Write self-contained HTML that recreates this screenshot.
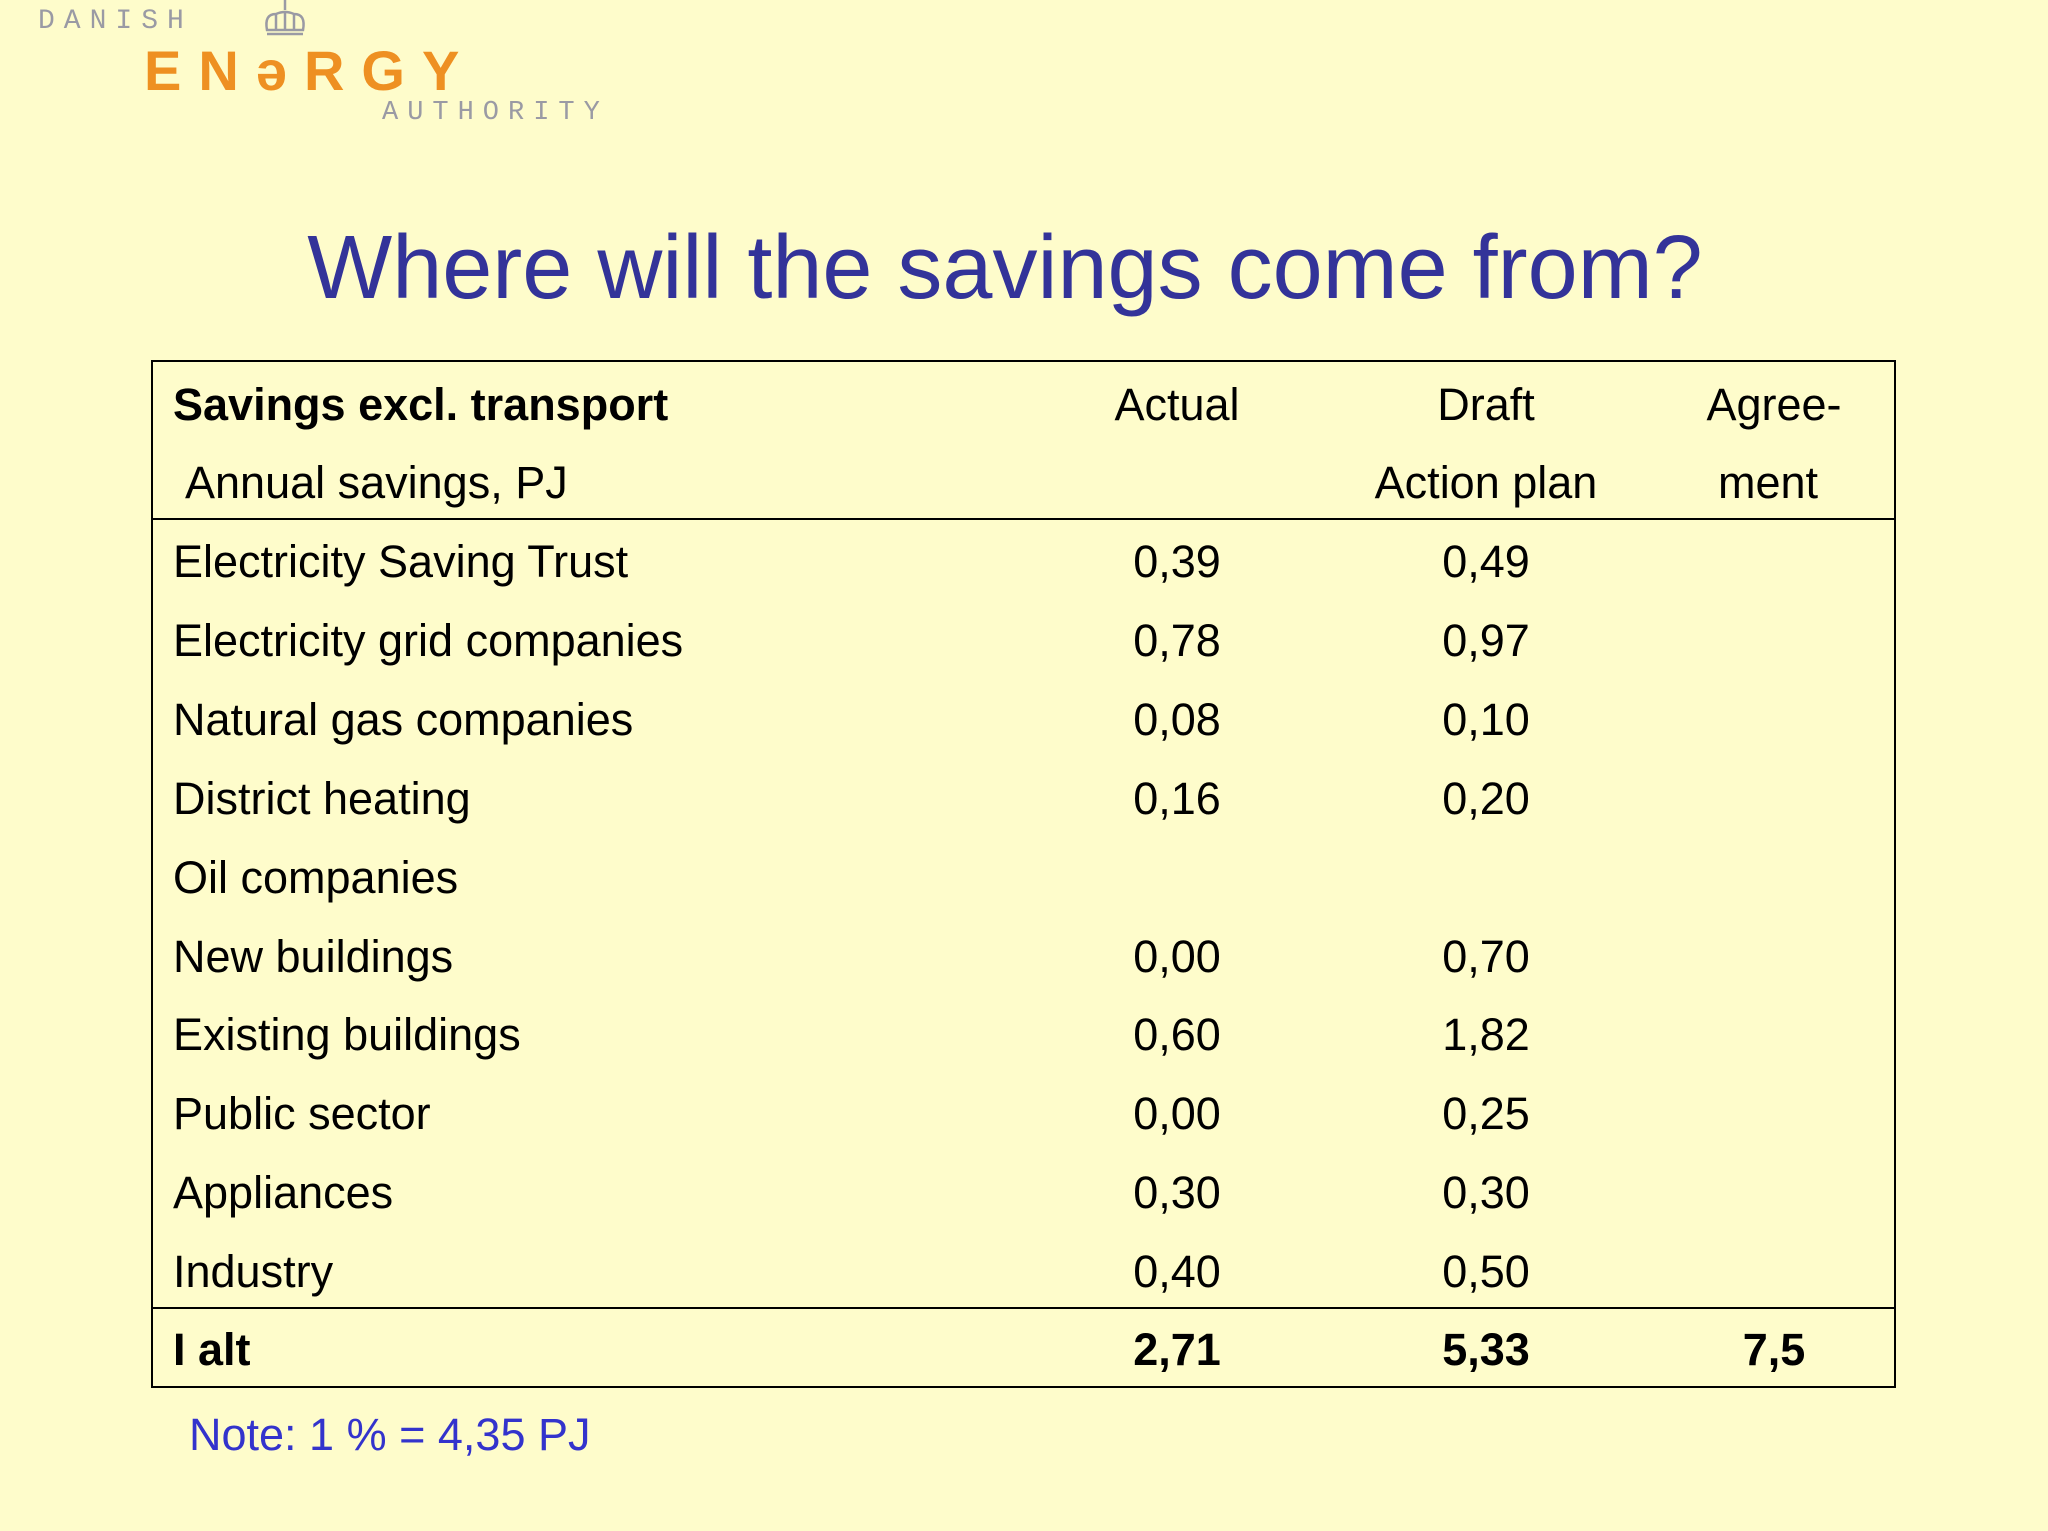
<!DOCTYPE html>
<html><head><meta charset="utf-8"><style>
body{margin:0;width:2048px;height:1531px;background:#fefccb;overflow:hidden;position:relative;font-family:"Liberation Sans",Arial,sans-serif;}
.t{position:absolute;line-height:60px;height:60px;white-space:nowrap;font-size:45px;color:#000;}
.c{text-align:center;width:300px;}
.hl{position:absolute;left:151px;width:1745px;height:0;border-top:2.5px solid #000;}
.logo{position:absolute;white-space:nowrap;font-family:"Liberation Mono",monospace;}
</style></head><body>
<div class="logo" style="left:38px;top:6px;font-size:28px;letter-spacing:9px;color:#9a9aa4;">DANISH</div>
<svg style="position:absolute;left:262px;top:0" width="46" height="38" viewBox="0 0 46 38"><g fill="none" stroke="#9a9aa4" stroke-width="2.5"><line x1="23" y1="0" x2="23" y2="10"/><path d="M5 30 Q2 14 14 14 Q23 10 32 14 Q44 14 41 30 Z"/><line x1="14" y1="14" x2="14" y2="30"/><line x1="23" y1="12" x2="23" y2="30"/><line x1="32" y1="14" x2="32" y2="30"/><line x1="5" y1="34" x2="41" y2="34"/></g></svg>
<div class="logo" style="left:144px;top:38px;font-size:56px;font-weight:bold;letter-spacing:17px;color:#ee9022;font-family:'Liberation Sans',sans-serif;">EN&#x259;RGY</div>
<div class="logo" style="left:382px;top:98px;font-size:27px;letter-spacing:9px;color:#9a9aa4;">AUTHORITY</div>

<div class="t" style="left:0;width:2010px;text-align:center;top:218px;height:100px;line-height:100px;font-size:90px;color:#333399;">Where will the savings come from?</div>

<div style="position:absolute;left:151px;top:360px;width:1741px;height:1024px;border:2.5px solid #000;"></div>
<div class="hl" style="top:518px"></div>
<div class="hl" style="top:1307px"></div>

<div class="t" style="left:173px;top:375px;font-weight:bold;">Savings excl. transport</div>
<div class="t" style="left:185px;top:453px;">Annual savings, PJ</div>
<div class="t c" style="left:1027px;top:375px;">Actual</div>
<div class="t c" style="left:1336px;top:375px;">Draft</div>
<div class="t c" style="left:1336px;top:453px;">Action plan</div>
<div class="t c" style="left:1624px;top:375px;">Agree-</div>
<div class="t c" style="left:1618px;top:453px;">ment</div>

<div id="rows"></div>

<div class="t" style="left:173px;top:1320px;font-weight:bold;">I alt</div>
<div class="t c" style="left:1027px;top:1320px;font-weight:bold;">2,71</div>
<div class="t c" style="left:1336px;top:1320px;font-weight:bold;">5,33</div>
<div class="t c" style="left:1624px;top:1320px;font-weight:bold;">7,5</div>

<div class="t" style="left:189px;top:1405px;color:#3333cc;">Note: 1 % = 4,35 PJ</div>

<script>
const labels=["Electricity Saving Trust","Electricity grid companies","Natural gas companies","District heating","Oil companies","New buildings","Existing buildings","Public sector","Appliances","Industry"];
const actual=["0,39","0,78","0,08","0,16","","0,00","0,60","0,00","0,30","0,40"];
const draft=["0,49","0,97","0,10","0,20","","0,70","1,82","0,25","0,30","0,50"];
const host=document.getElementById('rows');
labels.forEach((l,i)=>{
  const top=562+i*78.9-30;
  const a=document.createElement('div');a.className='t';a.style.left='173px';a.style.top=top+'px';a.textContent=l;
  
  
  host.appendChild(a);
  const b=document.createElement('div');b.className='t c';b.style.left='1027px';b.style.top=top+'px';b.textContent=actual[i];
  
  
  host.appendChild(b);
  const d=document.createElement('div');d.className='t c';d.style.left='1336px';d.style.top=top+'px';d.textContent=draft[i];
  
  
  host.appendChild(d);
});
</script>
</body></html>
